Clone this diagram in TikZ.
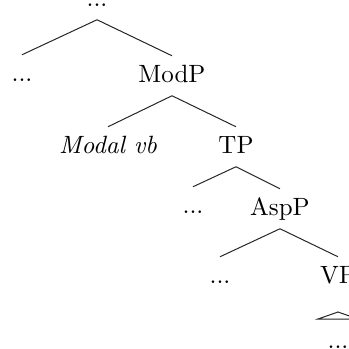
\documentclass[tikz,border=0pt]{standalone}
\begin{document}
\begin{tikzpicture}[x=0.4pt,y=-0.4pt,
  lab/.style={anchor=base,inner xsep=0pt,inner ysep=3.3pt,text height=7pt,text depth=2pt,font=\fontsize{10}{12}\selectfont},
  br/.style={line width=0.4pt,draw=black!85}]
\useasboundingbox (0,0) rectangle (349,349);
\node[lab] (top) at (97,6) {...};
\node[lab] (l1) at (22,81) {...};
\node[lab] (modp) at (172,82) {ModP};
\node[lab] (modal) at (108,153) {\textit{Modal vb}};
\node[lab] (tp) at (236,153) {TP};
\node[lab] (l2) at (193,213) {...};
\node[lab] (aspp) at (280,215) {AspP};
\node[lab] (l3) at (220,283) {...};
\node[lab] (vp) at (338,283) {VP};
\node[lab] (bot) at (338,348) {...};
\coordinate (roof) at (338,312);
\draw[br] (top.south) -- (l1.north);
\draw[br] (top.south) -- (modp.north);
\draw[br] (modp.south) -- (modal.north);
\draw[br] (modp.south) -- (tp.north);
\draw[br] (tp.south) -- (l2.north);
\draw[br] (tp.south) -- (aspp.north);
\draw[br] (aspp.south) -- (l3.north);
\draw[br] (aspp.south) -- (vp.north);
\draw[br] (roof) -- ++(-20,7) -- ++(40,0) -- cycle;
\end{tikzpicture}
\end{document}
